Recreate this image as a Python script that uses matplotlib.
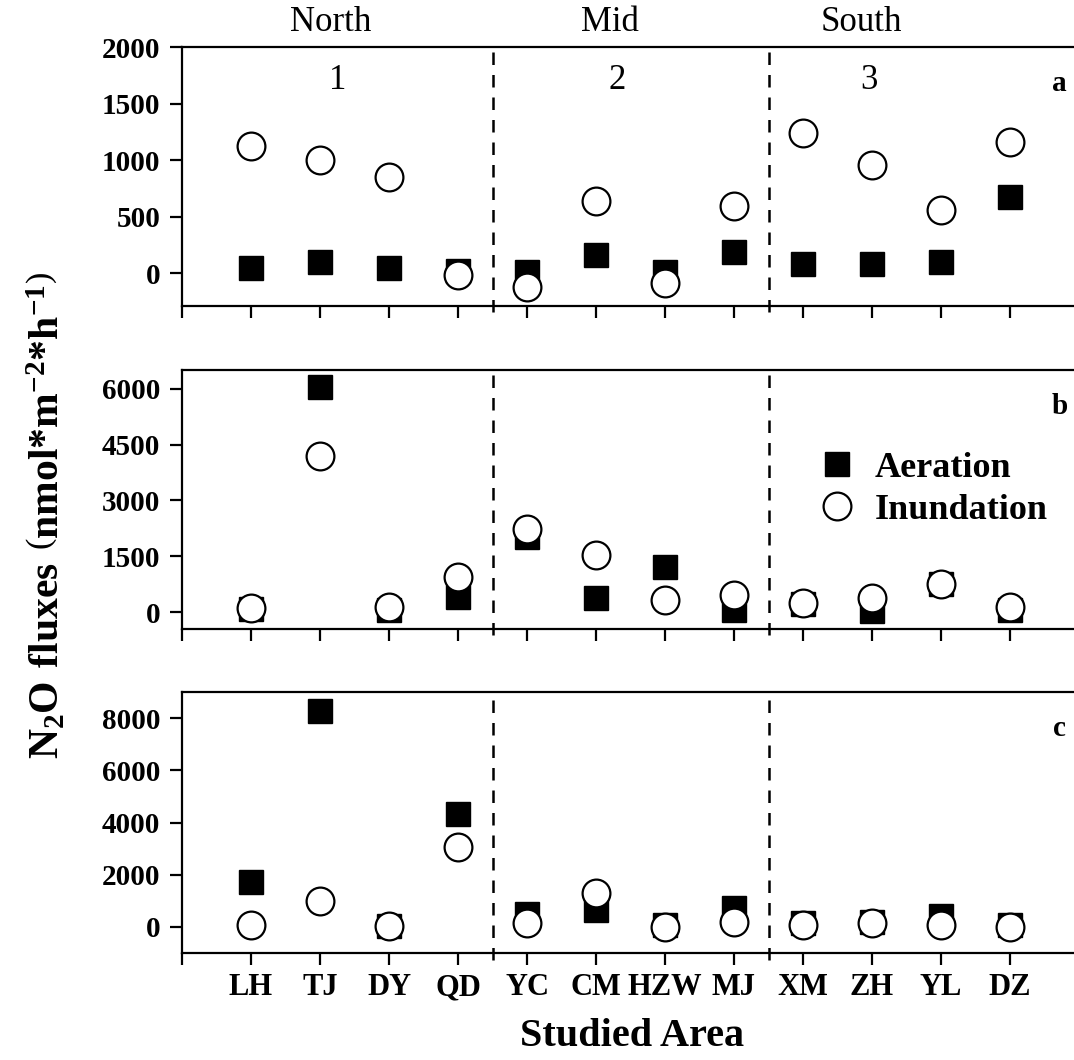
import matplotlib
matplotlib.use("Agg")
import matplotlib.pyplot as plt

plt.rcParams["font.family"] = ["Liberation Serif", "DejaVu Serif"]
plt.rcParams["mathtext.fontset"] = "custom"
plt.rcParams["mathtext.rm"] = "Liberation Serif"
plt.rcParams["mathtext.bf"] = "Liberation Serif:bold"

SITES = ["LH", "TJ", "DY", "QD", "YC", "CM", "HZW", "MJ", "XM", "ZH", "YL", "DZ"]
REGIONS = ["North", "Mid", "South"]
REGION_NUMS = ["1", "2", "3"]

# panel a
AER_A = [45, 100, 45, 20, 10, 160, 10, 185, 80, 80, 100, 670]
INU_A = [1125, 1000, 850, -20, -125, 635, -90, 595, 1240, 960, 555, 1160]
# panel b
AER_B = [100, 6040, 50, 410, 2020, 385, 1215, 50, 220, 30, 760, 50]
INU_B = [110, 4200, 130, 945, 2220, 1530, 330, 455, 250, 380, 770, 140]
# panel c
AER_C = [1735, 8290, 50, 4330, 500, 650, 75, 715, 140, 200, 420, 75]
INU_C = [75, 1000, 50, 3050, 140, 1310, 10, 200, 75, 140, 75, 10]

PANELS = [
    ("a", AER_A, INU_A, (-290, 2000), [0, 500, 1000, 1500, 2000]),
    ("b", AER_B, INU_B, (-450, 6500), [0, 1500, 3000, 4500, 6000]),
    ("c", AER_C, INU_C, (-1000, 9000), [0, 2000, 4000, 6000, 8000]),
]

W, H = 1074, 1060
fig = plt.figure(figsize=(W / 100, H / 100), dpi=100)
left = 182 / W
width = (1079 - 182) / W
boxes = [(47, 306), (370, 629), (692, 953)]

x = list(range(1, len(SITES) + 1))
axes = []
for (letter, aer, inu, ylim, yticks), (top, bot) in zip(PANELS, boxes):
    ax = fig.add_axes([left, 1 - bot / H, width, (bot - top) / H])
    axes.append(ax)
    ax.plot(x, aer, "s", ms=17, color="black", mec="black", zorder=3, clip_on=False)
    ax.plot(x, inu, "o", ms=20, mfc="white", mec="black", mew=1.6, zorder=4, clip_on=False)
    for xv in (4.5, 8.5):
        ax.axvline(xv, ymin=-0.025, ymax=1, color="black", lw=1.8,
                   ls=(0, (5, 4)), clip_on=False, zorder=2)
    ax.set_xlim(0, 13)
    ax.set_ylim(*ylim)
    ax.set_yticks(yticks)
    ax.set_xticks(range(0, 13))
    ax.set_xticklabels([])
    for s in ax.spines.values():
        s.set_linewidth(1.6)
    ax.tick_params(direction="out", length=8.5, width=1.6, labelsize=21, pad=7)
    ax.tick_params(top=False, right=False)
    for lab in ax.get_yticklabels():
        lab.set_fontweight("bold")
    ax.text(12.72, ylim[1] - (ylim[1] - ylim[0]) * 0.14, letter, fontsize=21,
            fontweight="bold", ha="center", va="center")

# region headers and numbers
ax = axes[0]
for name, num, xc in zip(REGIONS, REGION_NUMS, (2.15, 6.2, 9.85)):
    ax.text(xc, 1.03, name, transform=ax.get_xaxis_transform(), fontsize=25,
            ha="center", va="bottom")
    ax.text(xc + 0.1, 1700, num, fontsize=25, ha="center", va="center")

# bottom labels
axes[2].set_xticklabels([""] + SITES, fontsize=22, fontweight="bold")
axes[2].tick_params(axis="x", pad=6)
fig.text(632 / W, 1 - 1037 / H, "Studied Area", fontsize=29, fontweight="bold",
         ha="center", va="center")

# legend in panel b
hs = axes[1].plot([], [], "s", ms=17, color="black")[0]
hc = axes[1].plot([], [], "o", ms=20, mfc="white", mec="black", mew=1.6)[0]
axes[1].legend([hs, hc], ["Aeration", "Inundation"], loc="center left",
               bbox_to_anchor=(0.69, 0.54), frameon=False, borderpad=0,
               handlelength=1.0, handletextpad=0.55, labelspacing=0.25,
               prop={"weight": "bold", "size": 26})

fig.text(0.044, 1 - 515 / H,
         r"$\mathbf{N_2O\ fluxes\ }\left(\mathbf{nmol{*}m^{-2}{*}h^{-1}}\right)$",
         rotation=90, fontsize=30, ha="center", va="center")

fig.savefig("out.png", dpi=100)
